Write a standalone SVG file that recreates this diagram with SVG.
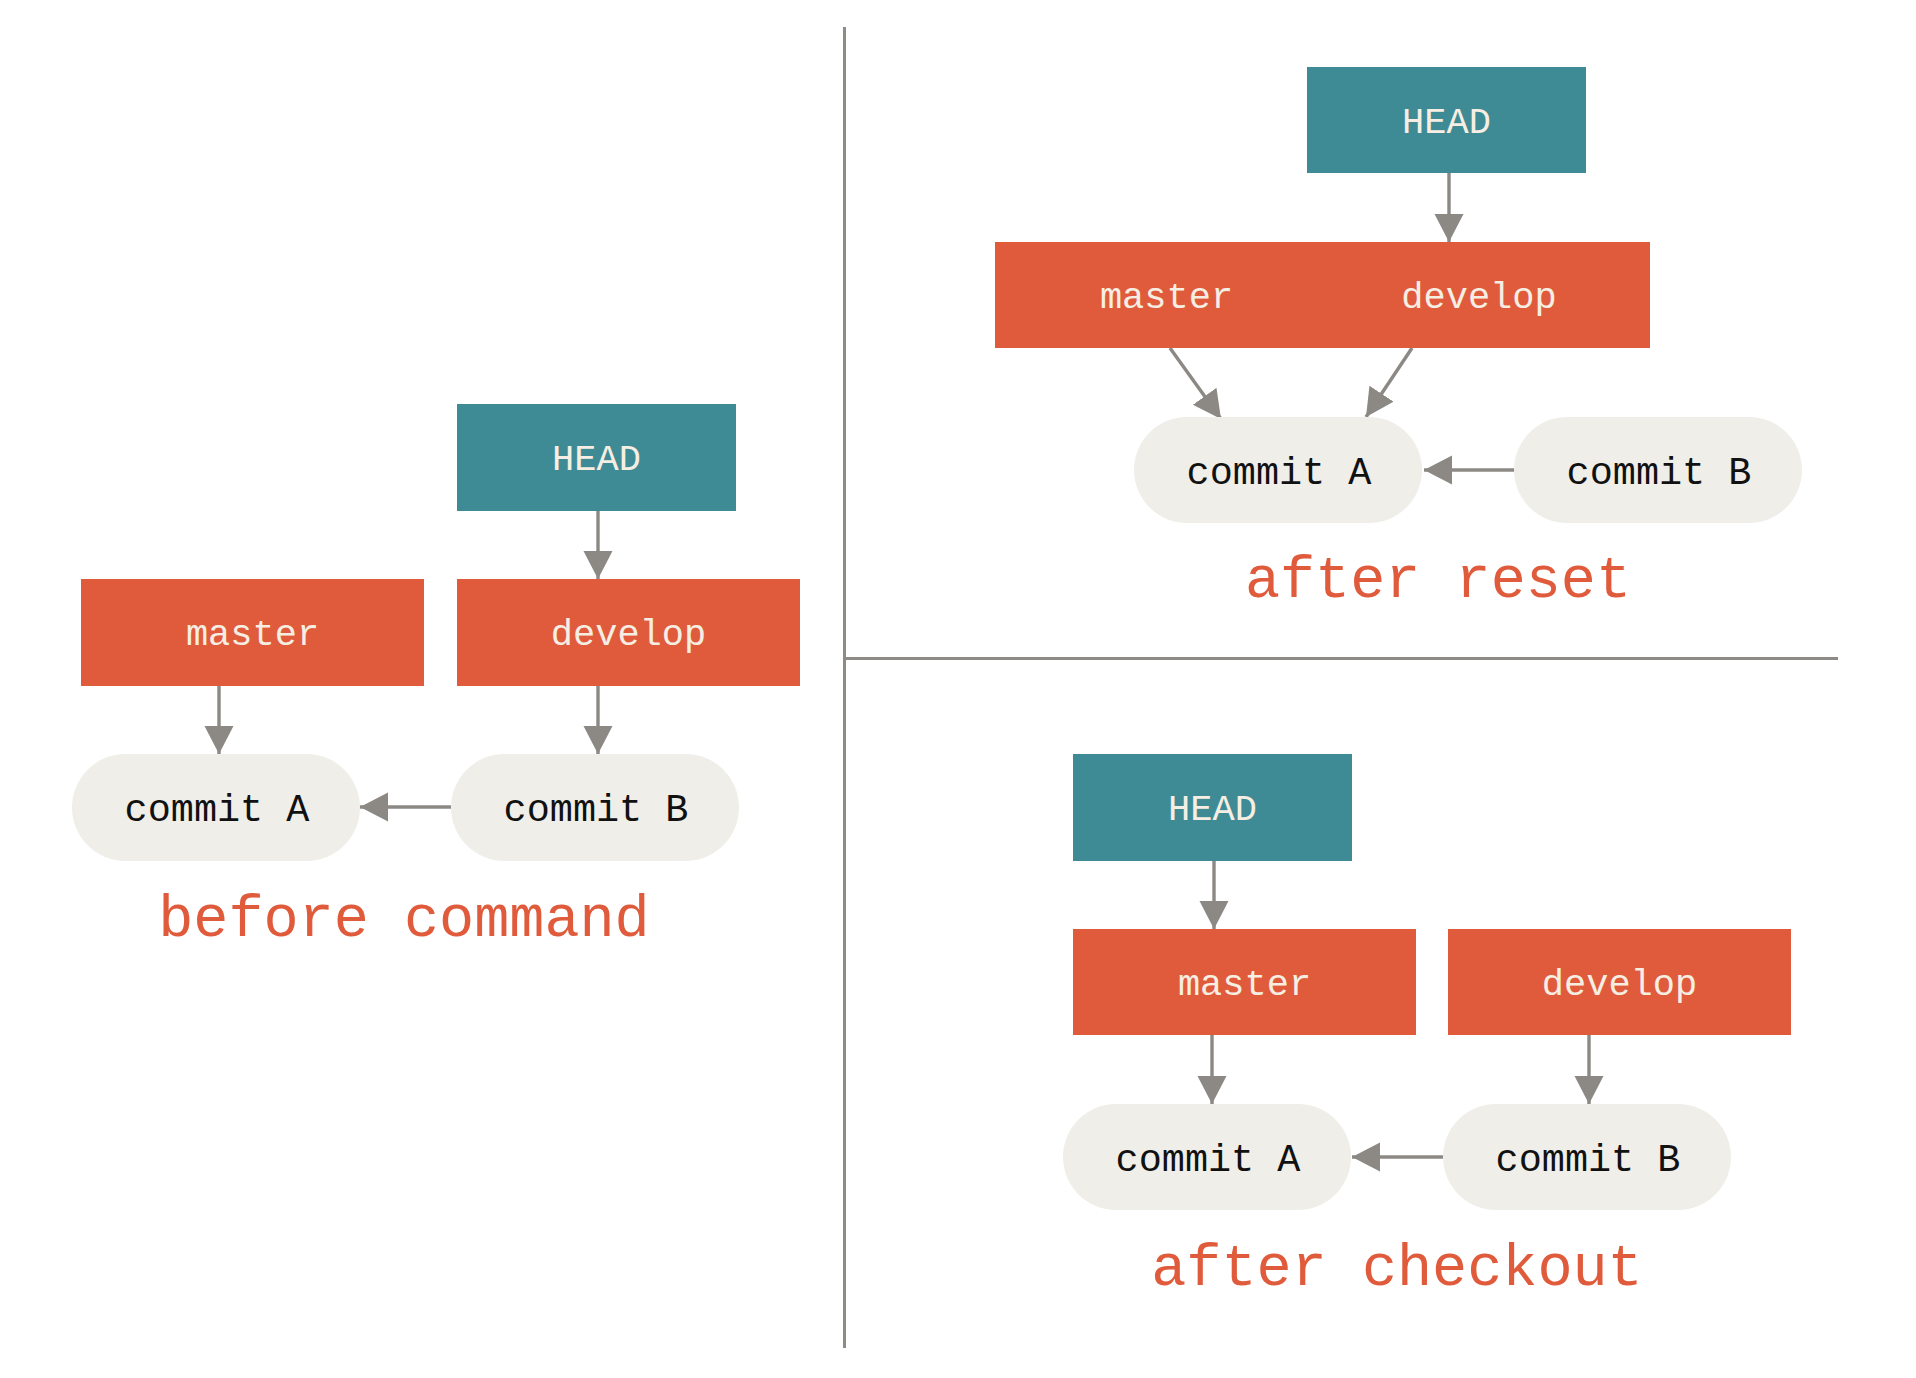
<svg xmlns="http://www.w3.org/2000/svg" width="1916" height="1378" viewBox="0 0 1916 1378">
<style>
.head{fill:#3f8b95}
.branch{fill:#e05b3b}
.commit{fill:#efeee9}
.lbl{font-family:"Liberation Mono","DejaVu Sans Mono",monospace;font-size:37px;fill:#f6eee3;text-anchor:middle}
.ctext{font-family:"Liberation Mono","DejaVu Sans Mono",monospace;font-size:38.5px;fill:#111;text-anchor:middle}
.cap{font-family:"Liberation Mono","DejaVu Sans Mono",monospace;font-size:58.5px;fill:#e05b3b;text-anchor:middle}
.edge{stroke:#8c8984;stroke-width:3.4;fill:none;marker-end:url(#arr)}
.div{stroke:#8e8b86;stroke-width:3;fill:none}
</style>
<defs>
<marker id="arr" markerUnits="userSpaceOnUse" markerWidth="30" markerHeight="30" refX="28" refY="14.5" orient="auto">
<path d="M0,0 L28,14.5 L0,29 z" fill="#8c8984"/>
</marker>
</defs>
<rect width="1916" height="1378" fill="#ffffff"/>
<g id="dividers">
<line class="div" x1="844.5" y1="27" x2="844.5" y2="1348"/>
<line class="div" x1="844" y1="658.5" x2="1838" y2="658.5"/>
</g>
<g id="connectors">
<line class="edge" x1="598" y1="511" x2="598" y2="579"/>
<line class="edge" x1="219" y1="686" x2="219" y2="754"/>
<line class="edge" x1="598" y1="686" x2="598" y2="754"/>
<line class="edge" x1="451" y1="807" x2="360" y2="807"/>
<line class="edge" x1="1449" y1="173" x2="1449" y2="242"/>
<line class="edge" x1="1170" y1="348" x2="1221" y2="419"/>
<line class="edge" x1="1412" y1="348" x2="1366" y2="417"/>
<line class="edge" x1="1514" y1="470" x2="1424" y2="470"/>
<line class="edge" x1="1214" y1="861" x2="1214" y2="929"/>
<line class="edge" x1="1212" y1="1035" x2="1212" y2="1104"/>
<line class="edge" x1="1589" y1="1035" x2="1589" y2="1104"/>
<line class="edge" x1="1443" y1="1157" x2="1352" y2="1157"/>
</g>
<g id="before-head"><rect class="head" x="457" y="404" width="279" height="107"/><text class="lbl" x="596.5" y="470">HEAD</text></g>
<g id="before-master"><rect class="branch" x="81" y="579" width="343" height="107"/><text class="lbl" x="252.5" y="645">master</text></g>
<g id="before-develop"><rect class="branch" x="457" y="579" width="343" height="107"/><text class="lbl" x="628.5" y="645">develop</text></g>
<g id="before-commitA"><rect class="commit" x="72" y="754" width="288" height="107" rx="53.5"/><text class="ctext" x="217" y="821">commit A</text></g>
<g id="before-commitB"><rect class="commit" x="451" y="754" width="288" height="107" rx="53.5"/><text class="ctext" x="596" y="821">commit B</text></g>
<g id="before-caption"><text class="cap" x="404" y="936">before command</text></g>
<g id="reset-head"><rect class="head" x="1307" y="67" width="279" height="106"/><text class="lbl" x="1446.5" y="133">HEAD</text></g>
<g id="reset-branches"><rect class="branch" x="995" y="242" width="655" height="106"/><text class="lbl" x="1166.5" y="308">master</text><text class="lbl" x="1479" y="308">develop</text></g>
<g id="reset-commitA"><rect class="commit" x="1134" y="417" width="288" height="106" rx="53"/><text class="ctext" x="1279" y="484">commit A</text></g>
<g id="reset-commitB"><rect class="commit" x="1514" y="417" width="288" height="106" rx="53"/><text class="ctext" x="1659" y="484">commit B</text></g>
<g id="reset-caption"><text class="cap" x="1438" y="597">after reset</text></g>
<g id="checkout-head"><rect class="head" x="1073" y="754" width="279" height="107"/><text class="lbl" x="1212.5" y="820">HEAD</text></g>
<g id="checkout-master"><rect class="branch" x="1073" y="929" width="343" height="106"/><text class="lbl" x="1244.5" y="995">master</text></g>
<g id="checkout-develop"><rect class="branch" x="1448" y="929" width="343" height="106"/><text class="lbl" x="1619.5" y="995">develop</text></g>
<g id="checkout-commitA"><rect class="commit" x="1063" y="1104" width="288" height="106" rx="53"/><text class="ctext" x="1208" y="1171">commit A</text></g>
<g id="checkout-commitB"><rect class="commit" x="1443" y="1104" width="288" height="106" rx="53"/><text class="ctext" x="1588" y="1171">commit B</text></g>
<g id="checkout-caption"><text class="cap" x="1397" y="1285">after checkout</text></g>
</svg>
